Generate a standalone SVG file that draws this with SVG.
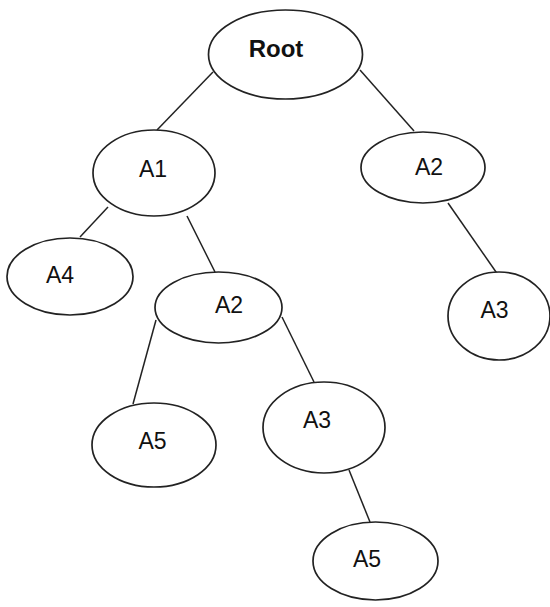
<svg xmlns="http://www.w3.org/2000/svg" width="550" height="607" viewBox="0 0 550 607">
<style>
.n ellipse{fill:#fff;stroke:#222;stroke-width:1.7}
.n text{font-family:"Liberation Sans",Arial,sans-serif;font-size:23px;fill:#111;text-anchor:middle}
#edges line{stroke:#222;stroke-width:1.5}
</style>
<rect width="550" height="607" fill="#fff"/>
<g id="edges">
<line x1="213" y1="72" x2="157" y2="130"/>
<line x1="360" y1="70" x2="414" y2="131"/>
<line x1="108" y1="207" x2="80" y2="237"/>
<line x1="187" y1="216" x2="215" y2="272"/>
<line x1="448" y1="203" x2="503" y2="282"/>
<line x1="156" y1="320" x2="133" y2="404"/>
<line x1="282" y1="317" x2="314" y2="382"/>
<line x1="349" y1="470" x2="370" y2="522"/>
</g>
<g id="root" class="n"><ellipse cx="285.5" cy="54.5" rx="77" ry="44.5"/><text x="276" y="57" style="font-weight:bold;font-size:24px">Root</text></g>
<g id="a1" class="n"><ellipse cx="154" cy="173" rx="61" ry="43"/><text x="153" y="177">A1</text></g>
<g id="a2r" class="n"><ellipse cx="423" cy="167.5" rx="62" ry="35.5"/><text x="429" y="175">A2</text></g>
<g id="a4" class="n"><ellipse cx="70" cy="276.5" rx="63" ry="38.5"/><text x="60" y="283">A4</text></g>
<g id="a2m" class="n"><ellipse cx="218.5" cy="307.5" rx="63.5" ry="35.5"/><text x="229" y="313">A2</text></g>
<g id="a3r" class="n"><ellipse cx="499" cy="316" rx="51" ry="44"/><text x="494.5" y="318">A3</text></g>
<g id="a5l" class="n"><ellipse cx="154" cy="445" rx="62" ry="42"/><text x="152.5" y="449">A5</text></g>
<g id="a3m" class="n"><ellipse cx="324" cy="427.5" rx="61" ry="45.5"/><text x="317" y="428">A3</text></g>
<g id="a5b" class="n"><ellipse cx="375.5" cy="561" rx="62.5" ry="39"/><text x="367" y="567">A5</text></g>
</svg>
